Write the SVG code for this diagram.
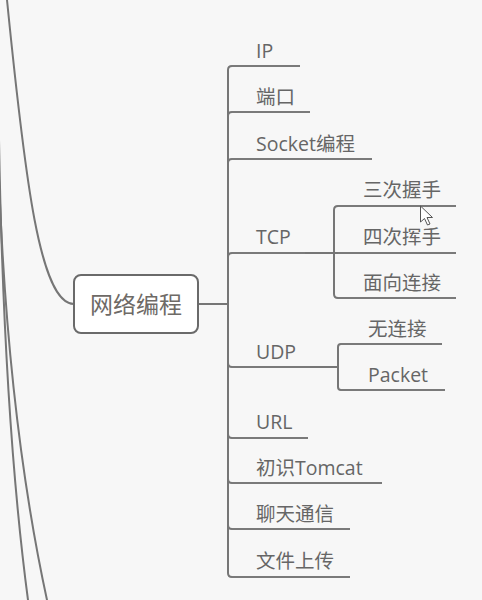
<svg xmlns="http://www.w3.org/2000/svg" width="482" height="600" viewBox="0 0 482 600">
<style>
.ln{fill:none;stroke:#767676;stroke-width:2;stroke-linecap:round}
.ul{fill:none;stroke:#7a7a7a;stroke-width:2}
.t{font-family:"Open Sans","Noto Sans CJK SC",sans-serif;font-size:19.5px;fill:#666}
.c{font-family:"Noto Sans CJK SC",sans-serif;font-size:23px;fill:#6e6a66;text-anchor:middle}
</style>
<rect x="0" y="0" width="482" height="600" fill="#f7f7f7"/>
<g id="connectors">
<path class="ln" d="M-1,140 Q4,420 28,600"/>
<path class="ln" d="M-1,180 Q8,420 47,600"/>
<path class="ln" d="M7,0 C25,180 40,304 74,304"/>
<path class="ln" stroke-width="3" d="M198,304 H228"/>
<path class="ln" d="M228,304 V70 Q228,66 232,66"/>
<path class="ln" d="M228,304 V116 Q228,112 232,112"/>
<path class="ln" d="M228,304 V163 Q228,159 232,159"/>
<path class="ln" d="M228,304 V257 Q228,253 232,253"/>
<path class="ln" d="M228,304 V363 Q228,367 232,367"/>
<path class="ln" d="M228,304 V434 Q228,438 232,438"/>
<path class="ln" d="M228,304 V479 Q228,483 232,483"/>
<path class="ln" d="M228,304 V525 Q228,529 232,529"/>
<path class="ln" d="M228,304 V573 Q228,577 232,577"/>
<path class="ln" stroke-width="2.5" d="M305,253 H334"/>
<path class="ln" d="M334,253 V210 Q334,206 338,206"/>
<path class="ln" d="M334,253 H338"/>
<path class="ln" d="M334,253 V294 Q334,298 338,298"/>
<path class="ln" stroke-width="2.5" d="M310,367 H338"/>
<path class="ln" d="M338,367 V347 Q338,344 341,344"/>
<path class="ln" d="M338,367 V387 Q338,390 341,390"/>
</g>
<g id="root">
<rect x="74" y="275" width="124" height="58" rx="7" fill="#ffffff" stroke="#6a6a6a" stroke-width="2"/>
<text class="c" x="136" y="313">网络编程</text>
</g>
<g id="n-ip"><path class="ul" d="M232,66 H300"/><text class="t" x="256" y="58">IP</text></g>
<g id="n-port"><path class="ul" d="M232,112 H310"/><text class="t" x="256" y="104">端口</text></g>
<g id="n-socket"><path class="ul" d="M232,159 H372"/><text class="t" x="256" y="151">Socket编程</text></g>
<g id="n-tcp"><path class="ul" d="M232,253 H305"/><text class="t" x="256" y="244">TCP</text></g>
<g id="n-tcp1"><path class="ul" d="M338,206 H456"/><text class="t" x="363" y="197">三次握手</text></g>
<g id="n-tcp2"><path class="ul" d="M338,253 H456"/><text class="t" x="363" y="244">四次挥手</text></g>
<g id="n-tcp3"><path class="ul" d="M338,298 H456"/><text class="t" x="363" y="290">面向连接</text></g>
<g id="n-udp"><path class="ul" d="M232,367 H310"/><text class="t" x="256" y="359">UDP</text></g>
<g id="n-udp1"><path class="ul" d="M341,344 H442"/><text class="t" x="368" y="336">无连接</text></g>
<g id="n-udp2"><path class="ul" d="M341,390 H445"/><text class="t" x="368" y="382">Packet</text></g>
<g id="n-url"><path class="ul" d="M232,438 H308"/><text class="t" x="256" y="429">URL</text></g>
<g id="n-tomcat"><path class="ul" d="M232,483 H382"/><text class="t" x="256" y="475">初识Tomcat</text></g>
<g id="n-chat"><path class="ul" d="M232,529 H350"/><text class="t" x="256" y="521">聊天通信</text></g>
<g id="n-upload"><path class="ul" d="M232,577 H350"/><text class="t" x="256" y="568">文件上传</text></g>
<path d="M420.5,206 V222 L424.5,218.5 L427.5,225 L430,224 L427,217.5 L432.5,217.5 Z" fill="#ffffff" stroke="#555" stroke-width="1" stroke-linejoin="round"/>
</svg>
